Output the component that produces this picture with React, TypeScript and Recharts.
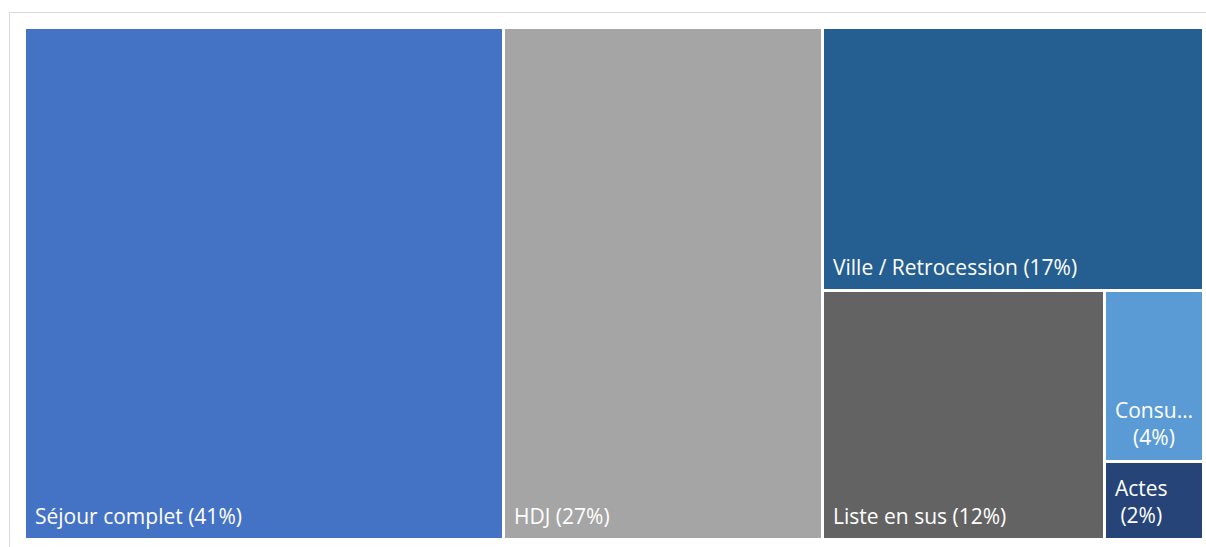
import React from 'react';
import { Treemap } from 'recharts';

const NAMES = ['Séjour complet', 'HDJ', 'Ville / Retrocession', 'Liste en sus', 'Consu…', 'Actes'];
// area shares (the rectangles), labels show the rounded shares below
const VALUES = [40.63, 27.06, 16.6, 11.63, 2.8, 1.28];
const SHARES = [41, 27, 17, 12, 4, 2];

const COLORS = ['#4472C4', '#A5A5A5', '#255E91', '#636363', '#5B9BD5', '#264478'];
const FONT = '"Open Sans", Lato, sans-serif';
const FONT_SIZE = 21;

const data = NAMES.map((name, i) => ({ name, size: VALUES[i] }));

let ctx: CanvasRenderingContext2D | null = null;
const measure = (txt: string) => {
    if (!ctx) ctx = document.createElement('canvas').getContext('2d');
    if (!ctx) return txt.length * FONT_SIZE * 0.5;
    ctx.font = `${FONT_SIZE}px ${FONT}`;
    return ctx.measureText(txt).width;
};

const Cell = (props: any) => {
    const { x, y, width, height, depth, index } = props;
    if (depth !== 1) return null;
    const name = NAMES[index];
    const share = `(${SHARES[index]}%)`;
    const bottom = y + height;
    const textStyle = { fill: '#fff', fontFamily: FONT, fontSize: FONT_SIZE };

    let label;
    if (width < 150) {
        // narrow cells: name and share wrapped on two lines
        const w1 = measure(name);
        const cx = x + 10 + w1 / 2;
        label = (
            <g>
                <text x={x + 10} y={bottom - 44} style={textStyle}>{name}</text>
                <text x={cx} y={bottom - 17} textAnchor="middle" style={textStyle}>{share}</text>
            </g>
        );
    } else {
        label = <text x={x + 10} y={bottom - 16} style={textStyle}>{`${name} ${share}`}</text>;
    }

    return (
        <g>
            <rect x={x + 1} y={y + 1} width={width - 3} height={height - 3} fill={COLORS[index % COLORS.length]} />
            {label}
        </g>
    );
};

export default function App() {
    return (
        <div style={{ position: 'absolute', left: 0, top: 0, width: 1206, height: 547, background: '#fff', overflow: 'hidden' }}>
            <div style={{ position: 'absolute', left: 9, top: 12, width: 1210, height: 560, borderTop: '1px solid #d9d9d9', borderLeft: '1px solid #d9d9d9' }} />
            <div style={{ position: 'absolute', left: 25, top: 28 }}>
                <Treemap
                    width={1179}
                    height={512}
                    data={data}
                    dataKey="size"
                    nameKey="name"
                    aspectRatio={1}
                    isAnimationActive={false}
                    content={<Cell />}
                />
            </div>
        </div>
    );
}
